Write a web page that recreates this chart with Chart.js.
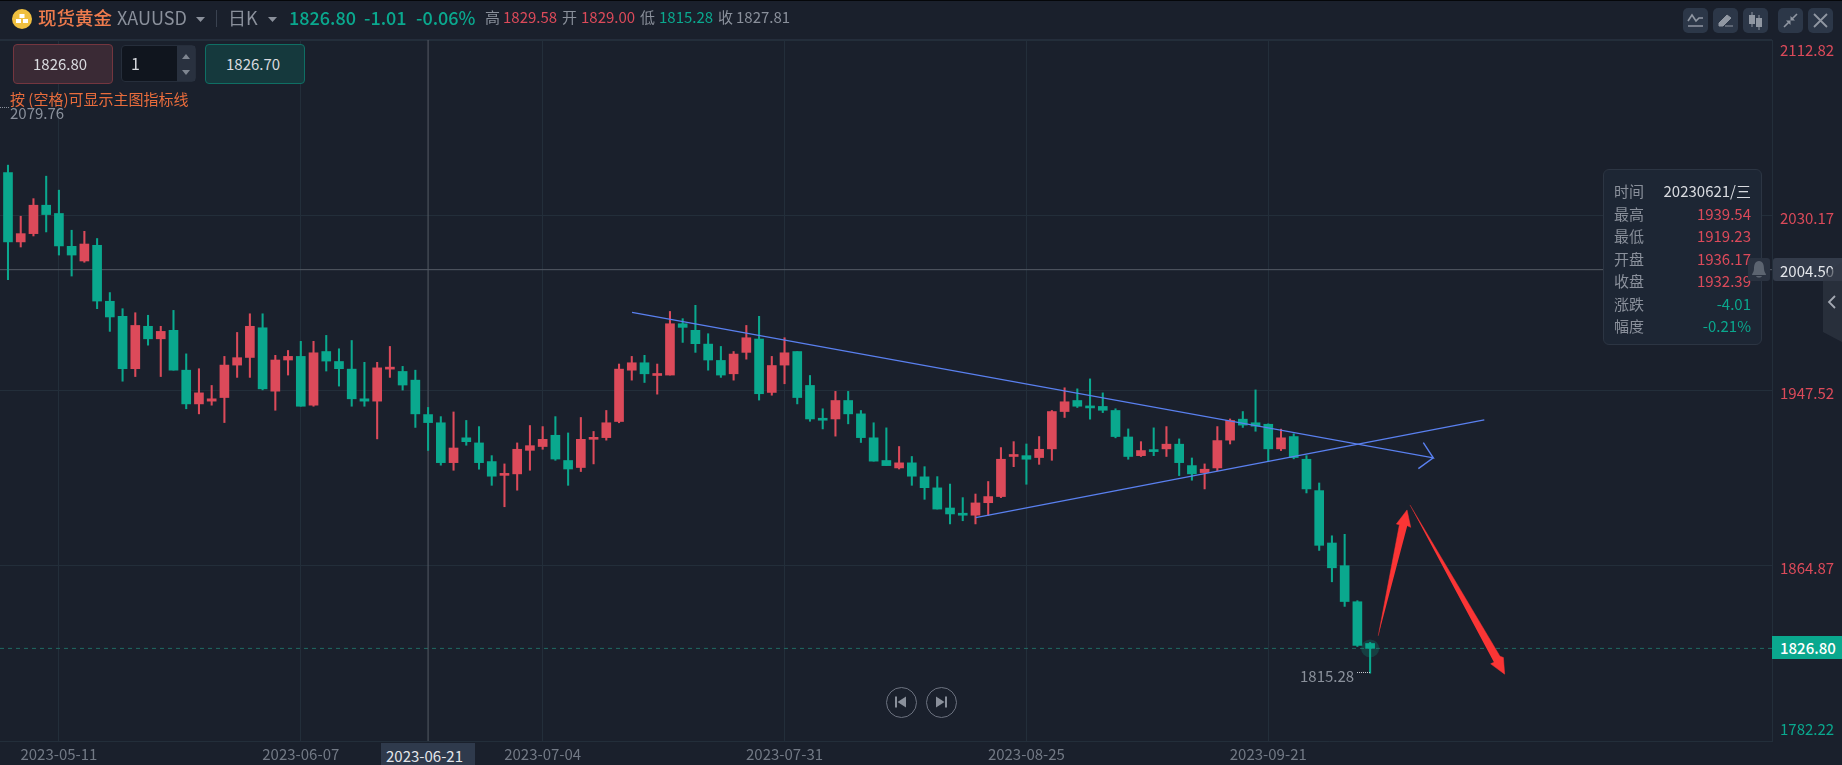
<!DOCTYPE html>
<html>
<head>
<meta charset="utf-8">
<title>现货黄金 XAUUSD</title>
<script src="https://cdn.jsdelivr.net/npm/chart.js@4/dist/chart.umd.js"></script>
<style>
html, body { margin: 0; padding: 0; background: #1a202c; overflow: hidden; }
body { font-family: "Noto Sans CJK SC", "Noto Sans", sans-serif; }
#wrap { position: relative; width: 1842px; height: 765px; background: #1a202c; overflow: hidden; }
#kline { position: absolute; left: 0; top: 0; }
.t { position: absolute; white-space: nowrap; line-height: 1; }
.box { position: absolute; box-sizing: border-box; }
.red { color: #dc4a5a; }
.green { color: #0aa88e; }
.grey { color: #8a909b; }
.head { font-size: 18px; top: 8px; }
.small { font-size: 15px; top: 9px; }
.icon { position: absolute; top: 8px; width: 25px; height: 25px; border-radius: 5px; background: #2c3748; }
.icon svg, .round svg { position: absolute; left: 0; top: 0; }
.tipl { left: 1614px; font-size: 15px; color: #8a909b; }
.tipr { right: 91px; font-size: 15px; }
.round { position: absolute; top: 687px; width: 31px; height: 31px; box-sizing: border-box; border: 1.5px solid #6d7380; border-radius: 50%; }
</style>
</head>
<body>
<div id="wrap">
    <canvas id="kline" width="1842" height="765"></canvas>

    <!-- top bar -->
    <div class="box" style="left:0;top:0;width:1842px;height:1px;background:#05070a"></div>
    <div class="box" style="left:0;top:39px;width:1772px;height:1px;background:#242d3b"></div>
    <svg class="box" style="left:12px;top:9px" width="20" height="20">
        <circle cx="10" cy="10" r="10" fill="#f0c040"/>
        <rect x="7.5" y="5" width="5" height="4" fill="#fff"/>
        <rect x="4" y="10" width="5" height="4" fill="#fff"/>
        <rect x="11" y="10" width="5" height="4" fill="#fff"/>
    </svg>
    <div class="t head" style="left:38px;font-size:18.5px;font-weight:500;color:#ee7b4d">现货黄金</div>
    <div class="t head grey" style="left:117px">XAUUSD</div>
    <svg class="box" style="left:196px;top:17px" width="9" height="5"><path d="M0 0H9L4.5 5Z" fill="#8a909b"/></svg>
    <div class="box" style="left:216px;top:10px;width:1px;height:17px;background:#3a4250"></div>
    <div class="t head grey" style="left:228px">日K</div>
    <svg class="box" style="left:268px;top:17px" width="9" height="5"><path d="M0 0H9L4.5 5Z" fill="#8a909b"/></svg>
    <div class="t head green" style="left:289px;font-weight:500">1826.80</div>
    <div class="t head green" style="left:364px;font-weight:500">-1.01</div>
    <div class="t head green" style="left:416px;font-weight:500">-0.06%</div>
    <div class="t small grey" style="left:485px">高</div>
    <div class="t small red" style="left:503px">1829.58</div>
    <div class="t small grey" style="left:562px">开</div>
    <div class="t small red" style="left:581px">1829.00</div>
    <div class="t small grey" style="left:640px">低</div>
    <div class="t small green" style="left:659px">1815.28</div>
    <div class="t small grey" style="left:718px">收</div>
    <div class="t small grey" style="left:736px">1827.81</div>

    <div class="icon" style="left:1683px"><svg width="25" height="25"><path d="M5 13L9 7L13 13L16 10H20M5 18H20" fill="none" stroke="#9097a2" stroke-width="1.6"/></svg></div>
    <div class="icon" style="left:1713px"><svg width="25" height="25"><path d="M6 15L14 7L18 10L10 18H6ZM12 18H20" fill="#9097a2" stroke="#9097a2" stroke-width="1"/></svg></div>
    <div class="icon" style="left:1743px"><svg width="25" height="25"><path d="M9 4V19M16 7V22" stroke="#9097a2"/><rect x="6" y="7" width="6" height="9" fill="#9097a2"/><rect x="13" y="10" width="6" height="9" fill="#9097a2"/></svg></div>
    <div class="icon" style="left:1778px"><svg width="25" height="25"><path d="M6 19L11 14M19 6L14 11" stroke="#9097a2" stroke-width="1.6"/><path d="M8 12.5H12.5V17ZM17 12.5H12.5V8Z" fill="#9097a2"/></svg></div>
    <div class="icon" style="left:1808px"><svg width="25" height="25"><path d="M6 6L19 19M19 6L6 19" stroke="#9097a2" stroke-width="1.8"/></svg></div>

    <!-- order buttons -->
    <div class="box" style="left:12.5px;top:43.5px;width:100px;height:40px;border:1px solid #74363f;border-radius:4px;background:#3a2a35"></div>
    <div class="t" style="left:33px;top:56px;font-size:15px;color:#d8dadf">1826.80</div>
    <div class="box" style="left:121px;top:45px;width:75px;height:37px;border:1px solid #262e3b;border-radius:4px;background:#10151e"></div>
    <div class="box" style="left:177px;top:46px;width:18px;height:35px;background:#29313f"></div>
    <svg class="box" style="left:182px;top:54px" width="8" height="22"><path d="M0 5H8L4 0ZM0 16H8L4 21Z" fill="#7e8590"/></svg>
    <div class="t" style="left:131px;top:55px;font-size:16px;color:#d8dadf">1</div>
    <div class="box" style="left:205px;top:43.5px;width:100px;height:40px;border:1px solid #0f6f64;border-radius:4px;background:#15393d"></div>
    <div class="t" style="left:226px;top:56px;font-size:15px;color:#d8dadf">1826.70</div>
    <div class="t" style="left:10px;top:91px;font-size:15px;color:#e96c3c">按 (空格)可显示主图指标线</div>
    <div class="t grey" style="left:10px;top:105px;font-size:15px">2079.76</div>
    <div class="box" style="left:0;top:107px;width:9px;border-top:1px dotted #8a909b"></div>

    <!-- low label -->
    <div class="t grey" style="left:1300px;top:668px;font-size:15px">1815.28</div>
    <div class="box" style="left:1357px;top:672px;width:13px;border-top:1px dotted #c8ccd2"></div>

    <!-- crosshair tooltip -->
    <div class="box" style="left:1603px;top:169px;width:159px;height:176px;background:#1d2634;border:1px solid #2c3543;border-radius:6px"></div>
    <div class="t tipl" style="top:183px">时间</div><div class="t tipr" style="top:183px;color:#d8dadf">20230621/三</div>
    <div class="t tipl" style="top:206px">最高</div><div class="t tipr red" style="top:206px">1939.54</div>
    <div class="t tipl" style="top:228px">最低</div><div class="t tipr red" style="top:228px">1919.23</div>
    <div class="t tipl" style="top:251px">开盘</div><div class="t tipr red" style="top:251px">1936.17</div>
    <div class="t tipl" style="top:273px">收盘</div><div class="t tipr red" style="top:273px">1932.39</div>
    <div class="t tipl" style="top:296px">涨跌</div><div class="t tipr green" style="top:296px">-4.01</div>
    <div class="t tipl" style="top:318px">幅度</div><div class="t tipr green" style="top:318px">-0.21%</div>

    <!-- bell + crosshair price -->
    <div class="box" style="left:1748px;top:258px;width:22px;height:23px;border-radius:3px;background:#2a3240"></div>
    <svg class="box" style="left:1750px;top:260px" width="18" height="18"><path d="M9 1C5 1 4 5 4 9C4 12 2 13 2 15H16C16 13 14 12 14 9C14 5 13 1 9 1ZM6 16C7 18 11 18 12 16Z" fill="#5c6470"/></svg>
    <div class="box" style="left:1773px;top:258px;width:69px;height:23px;border-radius:3px 0 0 3px;background:#333b4a"></div>
    <div class="t" style="left:1780px;top:263px;font-size:15px;color:#e4e6ea">2004.50</div>
    <svg class="box" style="left:1823px;top:262px" width="19" height="80">
        <path d="M0 14L19 0V80L0 70Z" fill="rgba(50,56,70,0.62)"/>
        <path d="M12 34L6 40L12 46" fill="none" stroke="#a4a9b2" stroke-width="1.8"/>
    </svg>

    <!-- current price -->
    <div class="box" style="left:1772px;top:636px;width:70px;height:23px;background:#0aa88e"></div>
    <div class="t" style="left:1780px;top:640px;font-size:15px;font-weight:500;color:#fff">1826.80</div>

    <!-- crosshair date -->
    <div class="box" style="left:381px;top:743px;width:94px;height:22px;background:#2f3a4c"></div>
    <div class="t" style="left:386px;top:748px;font-size:15px;color:#e4e6ea">2023-06-21</div>

    <!-- history buttons -->
    <div class="round" style="left:886px"><svg width="28" height="28"><path d="M9 8.5V19.5" stroke="#8a909b" stroke-width="2"/><path d="M19 8.5V19.5L10.5 14Z" fill="#8a909b"/></svg></div>
    <div class="round" style="left:926px"><svg width="28" height="28"><path d="M19 8.5V19.5" stroke="#8a909b" stroke-width="2"/><path d="M9 8.5V19.5L17.5 14Z" fill="#8a909b"/></svg></div>
</div>

<script>
// daily candles, XAUUSD
var dates = [
    '2023-05-05','2023-05-08','2023-05-09','2023-05-10','2023-05-11','2023-05-12','2023-05-15','2023-05-16','2023-05-17','2023-05-18','2023-05-19','2023-05-22','2023-05-23','2023-05-24','2023-05-25','2023-05-26','2023-05-29','2023-05-30','2023-05-31',
    '2023-06-01','2023-06-02','2023-06-05','2023-06-06','2023-06-07','2023-06-08','2023-06-09','2023-06-12','2023-06-13','2023-06-14','2023-06-15','2023-06-16','2023-06-19','2023-06-20','2023-06-21','2023-06-22','2023-06-23','2023-06-26','2023-06-27','2023-06-28','2023-06-29','2023-06-30',
    '2023-07-03','2023-07-04','2023-07-05','2023-07-06','2023-07-07','2023-07-10','2023-07-11','2023-07-12','2023-07-13','2023-07-14','2023-07-17','2023-07-18','2023-07-19','2023-07-20','2023-07-21','2023-07-24','2023-07-25','2023-07-26','2023-07-27','2023-07-28','2023-07-31',
    '2023-08-01','2023-08-02','2023-08-03','2023-08-04','2023-08-07','2023-08-08','2023-08-09','2023-08-10','2023-08-11','2023-08-14','2023-08-15','2023-08-16','2023-08-17','2023-08-18','2023-08-21','2023-08-22','2023-08-23','2023-08-24','2023-08-25','2023-08-28','2023-08-29','2023-08-30','2023-08-31',
    '2023-09-01','2023-09-04','2023-09-05','2023-09-06','2023-09-07','2023-09-08','2023-09-11','2023-09-12','2023-09-13','2023-09-14','2023-09-15','2023-09-18','2023-09-19','2023-09-20','2023-09-21','2023-09-22','2023-09-25','2023-09-26','2023-09-27','2023-09-28','2023-09-29',
    '2023-10-02','2023-10-03'
];
var openPrices = [
    2050.3,2017.6,2021.5,2034.9,2031.0,2015.5,2008.6,2016.0,1989.6,1982.5,
    1957.8,1977.8,1971.9,1975.9,1957.1,1941.2,1942.5,1944.2,1959.5,1963.1,
    1977.1,1947.2,1961.9,1963.6,1940.6,1965.9,1961.2,1957.6,1943.6,1942.5,
    1957.6,1956.5,1952.4,1936.17,1932.3,1913.5,1925.2,1922.8,1914.0,1907.5,
    1908.2,1919.3,1921.1,1926.4,1914.5,1911.2,1924.5,1925.3,1932.9,1957.1,
    1960.6,1954.6,1954.8,1979.0,1975.9,1969.4,1961.7,1955.4,1965.5,1971.8,
    1946.6,1959.5,1965.9,1949.9,1934.1,1934.1,1942.8,1936.5,1925.2,1914.5,
    1911.0,1913.4,1906.8,1901.6,1892.1,1889.3,1888.7,1894.6,1897.5,1916.4,
    1916.8,1915.9,1920.0,1937.6,1942.8,1940.0,1940.0,1938.1,1925.6,1916.8,
    1919.2,1920.0,1922.2,1912.1,1908.8,1911.0,1924.1,1934.0,1932.3,1931.6,
    1920.0,1925.8,1915.1,1900.3,1875.6,1864.9,1847.9,1828.2
];
var highPrices = [
    2053.8,2029.7,2038.0,2048.6,2042.0,2023.1,2022.6,2019.2,1993.7,1986.1,
    1984.2,1983.0,1977.8,1985.3,1964.8,1957.8,1949.9,1963.6,1974.9,1983.7,
    1983.7,1964.1,1966.4,1970.7,1970.7,1973.5,1967.2,1971.1,1960.8,1960.8,
    1968.3,1958.9,1957.1,1939.54,1935.2,1937.4,1933.4,1930.5,1916.8,1912.9,
    1922.8,1931.0,1930.5,1935.2,1927.5,1934.8,1928.2,1938.1,1960.0,1963.6,
    1964.1,1960.0,1984.8,1981.4,1987.7,1974.3,1968.3,1965.9,1978.2,1982.5,
    1963.6,1972.4,1965.9,1954.6,1938.9,1947.1,1947.1,1938.1,1932.3,1929.9,
    1921.1,1916.4,1911.6,1906.9,1903.4,1897.0,1898.7,1904.6,1920.6,1923.4,
    1922.3,1925.8,1938.1,1948.8,1948.3,1953.0,1946.4,1938.9,1929.4,1923.4,
    1929.9,1930.5,1924.7,1915.7,1912.9,1930.5,1934.1,1937.6,1947.8,1931.8,
    1929.3,1927.1,1916.8,1903.9,1879.0,1879.7,1848.4,1828.7
];
var lowPrices = [
    1999.8,2015.2,2020.4,2022.3,2011.4,2001.5,2008.0,1986.1,1975.4,1951.9,
    1954.1,1968.9,1954.1,1957.1,1938.9,1936.5,1940.6,1932.4,1953.7,1953.7,
    1947.8,1938.2,1954.8,1940.1,1940.1,1956.7,1949.6,1940.1,1940.1,1924.7,
    1953.7,1947.7,1930.1,1919.23,1912.3,1909.9,1921.7,1910.4,1902.8,1892.7,
    1900.5,1909.9,1919.8,1914.6,1902.8,1909.3,1912.9,1924.1,1932.3,1952.4,
    1951.3,1945.8,1954.8,1970.2,1965.5,1957.1,1953.7,1952.4,1962.3,1943.0,
    1945.3,1950.7,1941.2,1933.0,1929.4,1926.0,1931.8,1923.0,1914.2,1912.1,
    1910.5,1902.8,1896.2,1891.6,1884.6,1886.1,1884.6,1888.5,1897.0,1911.6,
    1903.3,1912.7,1914.6,1934.8,1939.5,1934.0,1937.1,1925.2,1915.1,1916.4,
    1916.8,1916.4,1907.4,1905.2,1901.1,1909.7,1922.3,1930.1,1928.3,1914.0,
    1919.2,1915.3,1899.2,1872.1,1857.3,1845.7,1826.8,1814.2
];
var closePrices = [
    2017.6,2021.5,2034.9,2030.5,2015.7,2011.4,2016.6,1989.7,1982.2,1957.8,
    1978.2,1971.9,1975.4,1957.1,1941.2,1946.4,1943.6,1959.5,1963.0,1977.8,
    1948.3,1961.9,1963.6,1940.1,1965.3,1961.4,1957.8,1943.6,1942.5,1958.2,
    1958.2,1950.1,1936.5,1932.39,1913.5,1920.4,1923.4,1913.5,1907.1,1908.2,
    1919.8,1921.5,1924.5,1915.2,1910.5,1924.5,1925.2,1932.3,1957.6,1960.6,
    1955.4,1955.4,1979.0,1977.3,1969.6,1961.9,1954.8,1964.7,1972.4,1946.0,
    1959.3,1965.3,1944.2,1934.1,1933.5,1942.8,1936.5,1925.3,1914.2,1912.1,
    1913.4,1907.1,1901.7,1891.6,1889.3,1888.7,1894.5,1897.5,1915.1,1916.8,
    1915.1,1919.8,1937.6,1942.2,1940.1,1939.3,1938.2,1925.8,1916.4,1919.2,
    1918.7,1922.2,1913.5,1908.2,1910.4,1923.9,1933.4,1931.2,1930.7,1920.0,
    1925.2,1915.9,1901.1,1874.5,1863.9,1848.0,1827.3,1825.9
];
var yTicks = [2112.82, 2030.17, 1947.52, 1864.87, 1782.22];
var xTickDates = ['2023-05-11', '2023-06-07', '2023-07-04', '2023-07-31', '2023-08-25', '2023-09-21'];
var lastLinePrice = 1825.9;
var crossDate = '2023-06-21';
var crossPrice = 2004.50;

// hand drawn lines, x in candle numbers (past the end too), y in price
var fallLineX = [49.02, 111.96, 111.18, 111.96, 110.79];
var fallLineY = [1984.36, 1915.74, 1922.97, 1915.74, 1910.69];
var riseLineX = [76.02, 115.97];
var riseLineY = [1887.55, 1933.69];
var upArrowX = [107.64, 109.30, 109.06, 109.90, 110.19, 109.92];
var upArrowY = [1831.82, 1884.24, 1884.57, 1891.19, 1882.97, 1883.77];
var downArrowX = [110.13, 117.20, 117.47, 117.57, 116.47, 116.73];
var downArrowY = [1893.55, 1822.22, 1821.59, 1813.74, 1818.60, 1819.39];

var upColor = '#dc4a5a';
var downColor = '#0aa88e';
var gridColor = '#232e3a';
var xMin = -0.628;
var xMax = 138.57;

function points(xs, ys) {
    return xs.map(function(x, i) { return { x: x, y: ys[i] }; });
}

function drawnLine(data, color, width, order) {
    return {
        type: 'line', data: data, borderColor: color, borderWidth: width,
        pointRadius: 0, tension: 0, fill: false, order: order
    };
}

function filledShape(data, color) {
    return {
        type: 'line', data: data, borderColor: color, backgroundColor: color, borderWidth: 0.5,
        pointRadius: 0, tension: 0, fill: 'shape', order: 0
    };
}

var candleColors = openPrices.map(function(o, i) {
    return closePrices[i] >= o ? upColor : downColor;
});
var crossIndex = dates.indexOf(crossDate);

new Chart(document.getElementById('kline'), {
    type: 'bar',
    data: {
        datasets: [
            {
                // bodies
                data: dates.map(function(d, i) { return { x: i, y: [openPrices[i], closePrices[i]] }; }),
                backgroundColor: candleColors, borderColor: candleColors, borderWidth: 0,
                borderSkipped: false, barThickness: 9, minBarLength: 2, grouped: false, order: 2
            },
            {
                // wicks
                data: dates.map(function(d, i) { return { x: i, y: [lowPrices[i], highPrices[i]] }; }),
                backgroundColor: candleColors, borderWidth: 0,
                borderSkipped: false, barThickness: 1.4, grouped: false, order: 3
            },
            drawnLine(points([xMin, xMax], [crossPrice, crossPrice]), '#555b65', 1, 5),
            drawnLine(points([crossIndex, crossIndex], [yTicks[yTicks.length - 1], yTicks[0]]), '#555b65', 1, 5),
            Object.assign(drawnLine(points([xMin, xMax], [lastLinePrice, lastLinePrice]), '#1f6b63', 1, 5), { borderDash: [4, 4] }),
            drawnLine(points(fallLineX, fallLineY), '#5a80f0', 1.4, 0),
            drawnLine(points(riseLineX, riseLineY), '#5a80f0', 1.4, 0),
            filledShape(points(upArrowX, upArrowY), '#fb3535'),
            filledShape(points(downArrowX, downArrowY), '#fb3535'),
            {
                // glow on the live candle
                type: 'line', data: [{ x: dates.length - 1, y: lastLinePrice }], showLine: false,
                pointRadius: 9, pointBorderWidth: 0, pointBackgroundColor: 'rgba(10,168,142,0.22)', order: 1
            }
        ]
    },
    options: {
        responsive: false,
        animation: false,
        events: [],
        layout: { autoPadding: false, padding: { top: 40, left: 0, right: 0, bottom: 0 } },
        plugins: { legend: { display: false }, tooltip: { enabled: false } },
        scales: {
            x: {
                type: 'linear',
                offset: false,
                min: xMin,
                max: xMax,
                afterBuildTicks: function(axis) {
                    axis.ticks = xTickDates.map(function(d) { return { value: dates.indexOf(d) }; });
                },
                afterFit: function(axis) {
                    axis.height = 24;
                    axis.paddingLeft = 0;
                    axis.paddingRight = 0;
                },
                grid: { color: gridColor, drawTicks: false, offset: false },
                border: { color: gridColor },
                ticks: {
                    autoSkip: false, maxRotation: 0, padding: 4, color: '#727985',
                    font: { family: '"Noto Sans CJK SC"', size: 15 },
                    callback: function(value) { return dates[value]; }
                }
            },
            y: {
                position: 'right',
                min: yTicks[yTicks.length - 1],
                max: yTicks[0],
                afterBuildTicks: function(axis) {
                    axis.ticks = yTicks.map(function(v) { return { value: v }; });
                },
                afterFit: function(axis) {
                    axis.width = 70;
                    axis.paddingTop = 0;
                    axis.paddingBottom = 0;
                },
                grid: { color: gridColor, drawTicks: false },
                border: { color: gridColor },
                ticks: {
                    autoSkip: false, padding: 8, labelOffset: 3,
                    font: { family: '"Noto Sans CJK SC"', size: 15, lineHeight: 1 },
                    color: function(ctx) { return ctx.tick.value < lastLinePrice ? downColor : upColor; },
                    callback: function(value) {
                        // first and last labels sit inside the plot
                        var label = value.toFixed(2);
                        if (value === yTicks[0]) return ['', label];
                        if (value === yTicks[yTicks.length - 1]) return [label, '', ''];
                        return label;
                    }
                }
            }
        }
    }
});
</script>
</body>
</html>
